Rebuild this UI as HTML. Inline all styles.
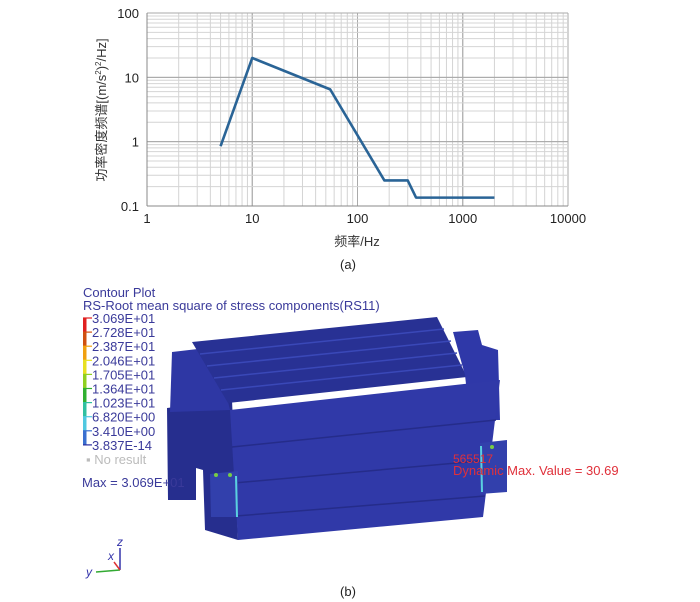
<!DOCTYPE html>
<html><head><meta charset="utf-8"><style>
body{margin:0;background:#fff;width:700px;height:602px;overflow:hidden;font-family:"Liberation Sans","Noto Sans CJK SC",sans-serif}
svg{position:absolute;left:0;top:0}
</style></head><body>
<svg width="700" height="602">
<g id="chart"></g>
<text x="348" y="269" font-size="13" text-anchor="middle" fill="#222">(a)</text>

<g>
<text x="83" y="297" font-size="13" fill="#3a3a9a">Contour Plot</text>
<text x="83" y="310" font-size="13" fill="#3a3a9a">RS-Root mean square of stress components(RS11)</text>
<g id="legend"></g>
<text x="86" y="464" font-size="13" fill="#bbb">▪ No result</text>

<g>
<polygon points="167,408 232,400 238,540 205,530 203,470 196,468 196,500 168,500" fill="#262e8e"/>
<polygon points="172,352 215,347 230,410 170,412" fill="#2e37a4"/>
<polygon points="192,342 437,317 467,377 228,403" fill="#283194"/>
<line x1="200" y1="354" x2="444" y2="329" stroke="#3a48b8" stroke-width="1.5"/>
<line x1="207" y1="366" x2="451" y2="341" stroke="#3a48b8" stroke-width="1.5"/>
<line x1="214" y1="378" x2="457" y2="353" stroke="#3a48b8" stroke-width="1.5"/>
<line x1="221" y1="390" x2="462" y2="365" stroke="#3a48b8" stroke-width="1.5"/>
<polygon points="453,332 478,330 482,345 498,350 500,420 470,420 465,375" fill="#2f38a8"/>
<polygon points="230,410 500,380 483,517 238,540" fill="#3039a8"/>
<line x1="232" y1="447" x2="496" y2="420" stroke="#252c8a" stroke-width="1.5"/>
<line x1="234" y1="483" x2="490" y2="460" stroke="#252c8a" stroke-width="1.5"/>
<line x1="236" y1="516" x2="485" y2="496" stroke="#252c8a" stroke-width="1.5"/>
<polygon points="210,474 238,471 238,517 211,517" fill="#3240ac"/>
<polygon points="480,443 507,440 507,492 480,494" fill="#3240ac"/>
<line x1="236" y1="476" x2="237" y2="517" stroke="#5ad0e0" stroke-width="2"/>
<line x1="481" y1="446" x2="482" y2="492" stroke="#5ad0e0" stroke-width="2"/>
<circle cx="216" cy="475" r="2" fill="#7c4"/><circle cx="230" cy="475" r="2" fill="#7c4"/><circle cx="492" cy="447" r="2" fill="#7c4"/>
</g>
<text x="82" y="487" font-size="13" fill="#3a3a9a">Max = 3.069E+01</text>
<text x="453" y="463" font-size="12" fill="#e0303a">565517</text>
<text x="453" y="475" font-size="13" fill="#e0303a">Dynamic Max. Value = 30.69</text>

<g>
<line x1="120" y1="570" x2="120" y2="548" stroke="#33a" stroke-width="1.5"/>
<line x1="120" y1="570" x2="96" y2="572" stroke="#3a3" stroke-width="1.5"/>
<line x1="120" y1="570" x2="114" y2="562" stroke="#d33" stroke-width="1.5"/>
<text x="117" y="546" font-size="12" font-style="italic" fill="#33a">z</text>
<text x="108" y="560" font-size="12" font-style="italic" fill="#33a">x</text>
<text x="86" y="576" font-size="12" font-style="italic" fill="#33a">y</text>
</g>
<text x="348" y="596" font-size="13" text-anchor="middle" fill="#222">(b)</text>
</g>
</svg>
<script>
const freqs=[5,10,55,180,300,360,2000];
const psd=[0.85,20,6.5,0.25,0.25,0.135,0.135];
const xTicks=[1,10,100,1000,10000];
const yTicks=[0.1,1,10,100];
const legendLabels=["3.069E+01","2.728E+01","2.387E+01","2.046E+01","1.705E+01","1.364E+01","1.023E+01","6.820E+00","3.410E+00","3.837E-14"];
const legendColors=["#e02020","#d05010","#f0a010","#e8e020","#90d020","#30b030","#30c0a0","#50c8e0","#3a70d0","#2a2ea0"];
const NS="http://www.w3.org/2000/svg";
const L=147,R=568,T=13,B=206;
const xs=v=>L+(Math.log10(v)-0)/4*(R-L);
const ys=v=>B-(Math.log10(v)+1)/3*(B-T);
const g=document.getElementById('chart');
function mk(t,a,p){const e=document.createElementNS(NS,t);for(const k in a)e.setAttribute(k,a[k]);(p||g).appendChild(e);return e;}
for(let d=0;d<4;d++)for(let m=1;m<=10;m++){const v=Math.pow(10,d)*m;const x=xs(v);
 mk('line',{x1:x,y1:T,x2:x,y2:B,stroke:m===1||m===10?'#aaa':'#d4d4d4','stroke-width':1});}
for(let d=-1;d<2;d++)for(let m=1;m<=10;m++){const v=Math.pow(10,d)*m;const y=ys(v);
 mk('line',{x1:L,y1:y,x2:R,y2:y,stroke:m===1||m===10?'#aaa':'#d4d4d4','stroke-width':1});}
mk('line',{x1:L,y1:T,x2:L,y2:B,stroke:'#888'});mk('line',{x1:L,y1:B,x2:R,y2:B,stroke:'#888'});
xTicks.forEach(v=>{const t=mk('text',{x:xs(v),y:B+17,'font-size':13,'text-anchor':'middle',fill:'#222'});t.textContent=v;
 
 });
yTicks.forEach(v=>{const t=mk('text',{x:L-8,y:ys(v)+5,'font-size':13,'text-anchor':'end',fill:'#222'});t.textContent=v;
 
 });
const xt=mk('text',{x:357,y:246,'font-size':13,'text-anchor':'middle',fill:'#333'});xt.textContent='频率/Hz';


const yt=mk('text',{x:0,y:0,'font-size':13,'text-anchor':'middle',fill:'#333',transform:'translate(106,110) rotate(-90)'});yt.innerHTML='功率密度频谱[(m/s<tspan font-size="8" dy="-5">2</tspan><tspan dy="5">)</tspan><tspan font-size="8" dy="-5">2</tspan><tspan dy="5">/Hz]</tspan>';


const pl=mk('polyline',{points:freqs.map((f,i)=>xs(f)+','+ys(psd[i])).join(' '),fill:'none',stroke:'#2a6496','stroke-width':2.6,'stroke-linejoin':'round'});


const lg=document.getElementById('legend');
const top0=318,step=14.1;
legendColors.slice(0,9).forEach((c,i)=>{const r=mk('rect',{x:83,y:top0+i*step,width:3.5,height:step,fill:c},lg);
 
 });
legendLabels.forEach((s,i)=>{const y=top0+i*step;
 mk('line',{x1:83,y1:y,x2:92,y2:y,stroke:legendColors[Math.min(i,9)],'stroke-width':1.2},lg);
 const t=mk('text',{x:92,y:y+5,'font-size':13,fill:'#3a3a9a'},lg);t.textContent=s;
 
 });
</script>
</body></html>
